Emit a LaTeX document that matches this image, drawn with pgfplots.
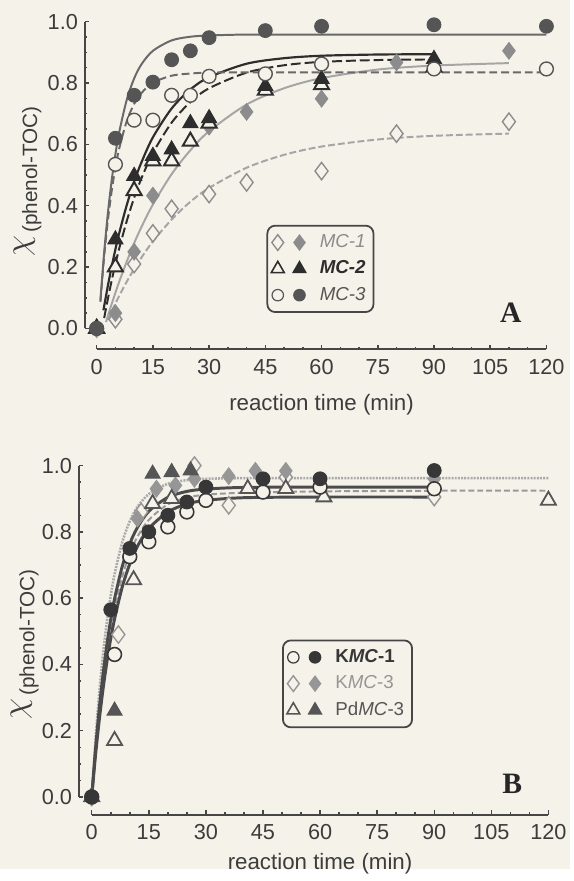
\documentclass[border=0pt]{standalone}
\usepackage{fontspec}
\setmainfont{Liberation Sans}
\newfontfamily\timesfont{Liberation Serif}
\usepackage{pgfplots}
\pgfplotsset{compat=1.18}

\definecolor{paper}{RGB}{245,242,234}
\definecolor{axcol}{RGB}{70,70,70}
\definecolor{labcol}{RGB}{60,60,60}
\definecolor{mcone}{RGB}{140,140,140}
\definecolor{mconeline}{RGB}{165,165,165}
\definecolor{mctwo}{RGB}{45,45,45}
\definecolor{mcthree}{RGB}{85,85,85}
\definecolor{mcthreeline}{RGB}{105,105,105}
\definecolor{kone}{RGB}{55,55,55}
\definecolor{kthree}{RGB}{150,150,150}
\definecolor{kthreeline}{RGB}{170,170,170}
\definecolor{pd}{RGB}{85,85,85}

\pgfplotsset{panel/.style={
  scale only axis, clip=false,
  axis line style={draw=none},
  xtick={0,15,...,120}, ytick={0,0.2,0.4,0.6,0.8,1},
  minor x tick num=2, minor y tick num=3,
  tick pos=left, tick align=inside,
  major tick length=2.3pt, minor tick length=1.3pt,
  tick style={axcol, line width=0.75pt},
  ticklabel style={font=\fontsize{11}{13}\selectfont, text=labcol},
  /pgf/number format/assume math mode=true,
  y tick label style={/pgf/number format/fixed, /pgf/number format/fixed zerofill, /pgf/number format/precision=1},
  x tick label style={yshift=-1.5pt},
  legend cell align=left,
}}

\begin{document}
\begin{tikzpicture}
\fill[paper] (0pt,0pt) rectangle (289pt,440.5pt);

% ---------------- Panel A ----------------
\begin{axis}[panel, at={(43pt,263.5pt)}, anchor=south west,
  width=234pt, height=166pt,
  xmin=-3.16, xmax=120, ymin=-0.0675, ymax=1,
  legend style={at={(axis cs:45.3,0.338)}, anchor=north west,
    draw=axcol, line width=0.9pt, rounded corners=4pt, fill=paper,
    font=\fontsize{9.5}{11}\selectfont, row sep=1.2pt, inner xsep=2pt, inner ysep=2.5pt}]

\addlegendimage{legend image code/.code={%
  \draw[mark options={draw=mcone, fill=paper, line width=0.7pt, sharp corners}] plot[mark=diamond*, mark size=4pt] coordinates {(0pt,0pt)};
  \draw[mark options={draw=mcone, fill=mcone, line width=0.6pt, sharp corners}] plot[mark=diamond*, mark size=3.8pt] coordinates {(11pt,0pt)};}}
\addlegendentry{\hspace{5pt}\textcolor{mcone}{\itshape MC-1}}
\addlegendimage{legend image code/.code={%
  \draw[mark options={draw=mctwo, fill=paper, line width=0.8pt, sharp corners}] plot[mark=triangle*, mark size=3.8pt] coordinates {(0pt,0pt)};
  \draw[mark options={draw=mctwo, fill=mctwo, line width=0.6pt, sharp corners}] plot[mark=triangle*, mark size=3.8pt] coordinates {(11pt,0pt)};}}
\addlegendentry{\hspace{5pt}\textcolor{mctwo}{\bfseries\itshape MC-2}}
\addlegendimage{legend image code/.code={%
  \draw[mark options={draw=mcthree, fill=paper, line width=0.6pt}] plot[mark=*, mark size=2.9pt] coordinates {(0pt,0pt)};
  \draw[mark options={draw=mcthree, fill=mcthree, line width=0.6pt}] plot[mark=*, mark size=2.9pt] coordinates {(11pt,0pt)};}}
\addlegendentry{\hspace{5pt}\textcolor{mcthree}{\itshape MC-3}}

% MC-1 fits
\addplot[mconeline, line width=1pt, smooth, forget plot] coordinates {(2.5,0.021)(3,0.041)(4,0.080)(5,0.116)(6,0.152)(8,0.217)(10,0.278)(12,0.332)(15,0.404)(20,0.503)(25,0.581)(30,0.643)(40,0.730)(50,0.783)(60,0.816)(75,0.844)(90,0.857)(110,0.865)};
\addplot[mconeline, line width=1pt, dash pattern=on 3.5pt off 1.5pt, smooth, forget plot] coordinates {(3,0.028)(4,0.055)(5,0.081)(6,0.106)(8,0.152)(10,0.194)(12,0.232)(15,0.284)(20,0.355)(25,0.413)(30,0.458)(40,0.524)(50,0.566)(60,0.593)(75,0.616)(90,0.628)(110,0.635)};
% MC-2 fits
\addplot[mctwo, line width=1.1pt, smooth, forget plot] coordinates {(1.8,0.059)(3,0.140)(4,0.201)(5,0.258)(6,0.310)(8,0.401)(10,0.479)(12,0.543)(15,0.623)(20,0.717)(25,0.779)(30,0.819)(40,0.863)(50,0.881)(60,0.889)(75,0.893)(90,0.894)};
\addplot[mctwo, line width=1pt, dash pattern=on 5pt off 2pt, smooth, forget plot] coordinates {(2,0.034)(3,0.097)(4,0.156)(5,0.210)(6,0.260)(8,0.349)(10,0.426)(12,0.491)(15,0.572)(20,0.671)(25,0.738)(30,0.783)(40,0.834)(50,0.858)(60,0.869)(75,0.875)(90,0.877)};
% MC-3 fits
\addplot[mcthreeline, line width=1pt, smooth, forget plot] coordinates {(1,0.091)(2,0.248)(3,0.377)(4,0.482)(5,0.568)(6,0.639)(8,0.744)(10,0.815)(12,0.862)(15,0.905)(20,0.939)(25,0.951)(30,0.955)(40,0.958)(60,0.958)(90,0.958)(120,0.958)};
\addplot[mcthreeline, line width=1pt, dash pattern=on 4pt off 2pt, smooth, forget plot] coordinates {(1,0.087)(2,0.235)(3,0.353)(4,0.448)(5,0.525)(6,0.586)(8,0.675)(10,0.732)(12,0.768)(15,0.801)(20,0.824)(25,0.831)(30,0.834)(40,0.835)(60,0.835)(90,0.835)(120,0.835)};

% markers
\addplot[only marks, mark=diamond*, mark size=4.4pt, mark options={draw=mcone, fill=paper, line width=0.7pt}, forget plot] coordinates {(0,0)(5,0.03)(10,0.21)(15,0.31)(20,0.39)(30,0.438)(40,0.476)(60,0.513)(80,0.635)(110,0.674)};
\addplot[only marks, mark=diamond*, mark size=4.2pt, mark options={draw=mcone, fill=mcone, line width=0.5pt}, forget plot] coordinates {(0,0)(5,0.05)(10,0.25)(15,0.433)(30,0.658)(40,0.706)(60,0.749)(80,0.867)(110,0.905)};
\addplot[only marks, mark=triangle*, mark size=4.4pt, mark options={draw=mctwo, fill=paper, line width=1pt}, forget plot] coordinates {(0,0)(5,0.20)(10,0.449)(15,0.546)(20,0.546)(25,0.61)(30,0.669)(45,0.776)(60,0.794)(90,0.851)};
\addplot[only marks, mark=triangle*, mark size=4.4pt, mark options={draw=mctwo, fill=mctwo, line width=0.5pt}, forget plot] coordinates {(0,0)(5,0.29)(10,0.497)(15,0.562)(20,0.583)(25,0.669)(30,0.685)(45,0.79)(60,0.813)(90,0.878)};
\addplot[only marks, mark=*, mark size=3.5pt, mark options={draw=mcthree, fill=paper, line width=0.7pt}, forget plot] coordinates {(0,0)(5,0.535)(10,0.679)(15,0.679)(20,0.76)(25,0.76)(30,0.822)(45,0.83)(60,0.862)(90,0.846)(120,0.846)};
\addplot[only marks, mark=*, mark size=3.5pt, mark options={draw=mcthree, fill=mcthree, line width=0.5pt}, forget plot] coordinates {(0,0)(5,0.62)(10,0.76)(15,0.803)(20,0.876)(25,0.905)(30,0.948)(45,0.971)(60,0.985)(90,0.99)(120,0.985)};

\draw[axcol, line width=0.9pt] (axis cs:-3.16,0) -- (axis cs:-3.16,1);
\draw[axcol, line width=0.9pt] (axis cs:0,-0.0675) -- (axis cs:120,-0.0675);
\node[text=labcol, font=\fontsize{11.3}{13}\selectfont] at ([yshift=-28pt]axis cs:60,-0.0675) {reaction time (min)};
\node[text=labcol, rotate=90] at ([xshift=-29pt]axis cs:-3.16,0.479) {{\fontsize{18}{18}\selectfont$\chi$}\,\raisebox{-4.5pt}{\fontsize{10.5}{12}\selectfont(phenol-TOC)}};
\node[text=black!85, font=\timesfont\bfseries\fontsize{15}{15}\selectfont] at (axis cs:110.5,0.05) {A};
\end{axis}

% ---------------- Panel B ----------------
\begin{axis}[panel, at={(40pt,27.5pt)}, anchor=south west,
  width=238pt, height=177pt,
  xmin=-3.37, xmax=120, ymin=-0.0536, ymax=1,
  legend style={at={(axis cs:50,0.475)}, anchor=north west,
    draw=axcol, line width=0.9pt, rounded corners=4pt, fill=paper,
    font=\fontsize{9.5}{11}\selectfont, row sep=1.2pt, inner xsep=2pt, inner ysep=2.5pt}]

\addlegendimage{legend image code/.code={%
  \draw[mark options={draw=kone, fill=paper, line width=0.6pt}] plot[mark=*, mark size=2.9pt] coordinates {(0pt,0pt)};
  \draw[mark options={draw=kone, fill=kone, line width=0.6pt}] plot[mark=*, mark size=2.9pt] coordinates {(11pt,0pt)};}}
\addlegendentry{\hspace{5pt}\textcolor{kone}{\bfseries K\textit{MC}-1}}
\addlegendimage{legend image code/.code={%
  \draw[mark options={draw=kthree, fill=paper, line width=0.7pt, sharp corners}] plot[mark=diamond*, mark size=4pt] coordinates {(0pt,0pt)};
  \draw[mark options={draw=kthree, fill=kthree, line width=0.6pt, sharp corners}] plot[mark=diamond*, mark size=3.8pt] coordinates {(11pt,0pt)};}}
\addlegendentry{\hspace{5pt}\textcolor{kthree}{K\textit{MC}-3}}
\addlegendimage{legend image code/.code={%
  \draw[mark options={draw=pd, fill=paper, line width=0.8pt, sharp corners}] plot[mark=triangle*, mark size=3.8pt] coordinates {(0pt,0pt)};
  \draw[mark options={draw=pd, fill=pd, line width=0.6pt, sharp corners}] plot[mark=triangle*, mark size=3.8pt] coordinates {(11pt,0pt)};}}
\addlegendentry{\hspace{5pt}\textcolor{pd}{Pd\textit{MC}-3}}

% fits
\addplot[black!40, line width=1pt, dash pattern=on 3pt off 1.5pt, smooth, forget plot] coordinates {(0,0)(1,0.136)(2,0.252)(3,0.351)(4,0.435)(5,0.507)(6,0.568)(8,0.664)(10,0.734)(12,0.785)(15,0.836)(20,0.883)(25,0.903)(30,0.912)(40,0.918)(60,0.922)(90,0.924)(120,0.924)};
\addplot[kthreeline, line width=1.3pt, dash pattern=on 1pt off 0.6pt, smooth, forget plot] coordinates {(0,0)(1,0.174)(2,0.317)(3,0.434)(4,0.530)(5,0.608)(6,0.672)(8,0.768)(10,0.832)(12,0.875)(15,0.914)(20,0.945)(25,0.956)(30,0.960)(40,0.962)(60,0.962)(90,0.962)(120,0.962)};

% markers
\addplot[only marks, mark=diamond*, mark size=4.4pt, mark options={draw=kthree, fill=paper, line width=0.7pt}, forget plot] coordinates {(0,0)(7,0.49)(13,0.86)(27,1.0)(36,0.88)(51,0.965)(90,0.905)};
\addplot[only marks, mark=diamond*, mark size=4.2pt, mark options={draw=kthree, fill=kthree, line width=0.5pt}, forget plot] coordinates {(0,0)(12,0.84)(17,0.93)(22,0.94)(27,0.96)(36,0.968)(43,0.984)(51,0.984)(90,0.96)};
\addplot[only marks, mark=triangle*, mark size=4.4pt, mark options={draw=pd, fill=paper, line width=0.9pt}, forget plot] coordinates {(0,0)(6,0.17)(11,0.655)(16,0.885)(21,0.90)(41,0.93)(51,0.93)(61,0.905)(120,0.895)};
\addplot[only marks, mark=triangle*, mark size=4.4pt, mark options={draw=pd, fill=pd, line width=0.5pt}, forget plot] coordinates {(0,0)(6,0.26)(16,0.975)(21,0.98)(26,0.985)};
\addplot[only marks, mark=*, mark size=3.5pt, mark options={draw=kone, fill=paper, line width=0.8pt}, forget plot] coordinates {(0,0)(6,0.43)(10,0.725)(15,0.77)(20,0.815)(25,0.86)(30,0.895)(45,0.92)(60,0.935)(90,0.93)};
\addplot[only marks, mark=*, mark size=3.5pt, mark options={draw=kone, fill=kone, line width=0.5pt}, forget plot] coordinates {(0,0)(5,0.565)(10,0.75)(15,0.80)(20,0.85)(25,0.89)(30,0.935)(45,0.96)(60,0.96)(90,0.985)};

\addplot[kone!90, line width=1.5pt, smooth, forget plot] coordinates {(0,0)(1,0.146)(2,0.269)(3,0.373)(4,0.461)(5,0.536)(6,0.598)(8,0.695)(10,0.764)(12,0.813)(15,0.862)(20,0.904)(25,0.922)(30,0.929)(40,0.934)(60,0.935)(90,0.935)};
\addplot[kone!90, line width=1.5pt, smooth, forget plot] coordinates {(0,0)(1,0.126)(2,0.234)(3,0.328)(4,0.408)(5,0.478)(6,0.537)(8,0.633)(10,0.703)(12,0.756)(15,0.810)(20,0.860)(25,0.884)(30,0.895)(40,0.903)(60,0.905)(90,0.905)};

\draw[axcol, line width=0.9pt] (axis cs:-3.37,0) -- (axis cs:-3.37,1);
\draw[axcol, line width=0.9pt] (axis cs:0,-0.0536) -- (axis cs:120,-0.0536);
\node[text=labcol, font=\fontsize{11.3}{13}\selectfont] at ([yshift=-25pt]axis cs:60,-0.0536) {reaction time (min)};
\node[text=labcol, rotate=90] at ([xshift=-27.5pt]axis cs:-3.37,0.46) {{\fontsize{18}{18}\selectfont$\chi$}\,\raisebox{-4.5pt}{\fontsize{10.5}{12}\selectfont(phenol-TOC)}};
\node[text=black!85, font=\timesfont\bfseries\fontsize{15}{15}\selectfont] at (axis cs:110.5,0.04) {B};
\end{axis}
\end{tikzpicture}
\end{document}
